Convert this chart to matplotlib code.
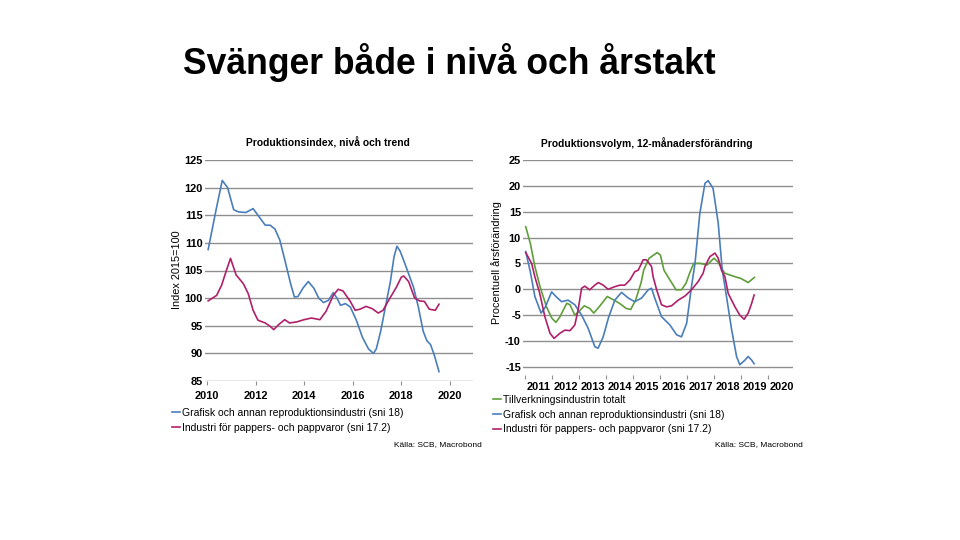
import numpy as np
import matplotlib
matplotlib.use("Agg")
from matplotlib import pyplot as plt

plt.rcParams['font.family'] = ['Liberation Sans', 'DejaVu Sans']
plt.rcParams['axes.unicode_minus'] = False

BLUE = '#4a7ebb'
MAGENTA = '#b0206a'
GREEN = '#5f9e3a'
GRID = '#8f8f8f'

# left panel: Produktionsindex (2015=100)
grafisk_idx_t = [2010.05, 2010.4, 2010.63, 2010.85, 2011.1, 2011.3, 2011.6, 2011.9, 2012.1, 2012.4,
                 2012.6, 2012.8, 2013.0, 2013.2, 2013.45, 2013.6, 2013.75, 2013.95, 2014.17, 2014.4,
                 2014.6, 2014.8, 2015.0, 2015.2, 2015.35, 2015.5, 2015.7, 2015.9, 2016.15, 2016.4,
                 2016.65, 2016.85, 2016.97, 2017.15, 2017.35, 2017.55, 2017.7, 2017.82, 2017.95, 2018.1,
                 2018.3, 2018.5, 2018.7, 2018.9, 2019.05, 2019.2, 2019.35, 2019.55]
grafisk_idx = [108.8, 116.5, 121.3, 120.0, 116.0, 115.6, 115.5, 116.2, 115.0, 113.2,
               113.2, 112.5, 110.5, 107.0, 102.5, 100.2, 100.3, 101.8, 103.0, 101.8,
               100.0, 99.2, 99.6, 101.0, 100.0, 98.7, 99.0, 98.4, 96.0, 92.9,
               90.8, 90.0, 90.8, 94.0, 98.5, 103.0, 107.5, 109.4, 108.5, 106.8,
               104.4, 102.0, 98.4, 94.0, 92.3, 91.6, 89.8, 86.7]

papper_idx_t = [2010.05, 2010.4, 2010.6, 2010.8, 2010.97, 2011.2, 2011.5, 2011.7, 2011.9, 2012.1,
                2012.4, 2012.6, 2012.75, 2012.95, 2013.2, 2013.4, 2013.7, 2014.0, 2014.3, 2014.65,
                2014.9, 2015.2, 2015.4, 2015.6, 2015.9, 2016.1, 2016.3, 2016.55, 2016.8, 2017.05,
                2017.25, 2017.45, 2017.8, 2018.0, 2018.1, 2018.3, 2018.55, 2018.75, 2018.95, 2019.15,
                2019.4, 2019.55]
papper_idx = [99.5, 100.5, 102.3, 105.0, 107.2, 104.2, 102.6, 100.8, 97.8, 96.0,
              95.5, 94.9, 94.3, 95.2, 96.1, 95.5, 95.7, 96.1, 96.4, 96.1,
              97.6, 100.5, 101.6, 101.3, 99.4, 97.8, 98.0, 98.5, 98.1, 97.3,
              97.8, 99.4, 102.0, 103.8, 104.0, 103.0, 100.0, 99.5, 99.4, 98.0,
              97.8, 98.9]

# right panel: Produktionsvolym, 12-månadersförändring (%)
totalt_t = [2011.03, 2011.2, 2011.37, 2011.56, 2011.8, 2012.0, 2012.15, 2012.3, 2012.55, 2012.67,
            2012.85, 2013.0, 2013.2, 2013.4, 2013.55, 2013.75, 2014.05, 2014.3, 2014.5, 2014.75,
            2014.92, 2015.1, 2015.3, 2015.4, 2015.6, 2015.9, 2016.02, 2016.15, 2016.3, 2016.6,
            2016.8, 2016.97, 2017.1, 2017.25, 2017.5, 2017.75, 2018.0, 2018.15, 2018.4, 2018.8,
            2019.0, 2019.27, 2019.5]
totalt = [12.1, 8.9, 4.4, 0.5, -3.4, -5.6, -6.4, -5.3, -2.7, -3.0,
          -5.0, -4.3, -3.2, -3.7, -4.6, -3.4, -1.4, -2.1, -2.7, -3.7,
          -3.9, -2.1, 1.2, 3.7, 6.0, 7.1, 6.6, 3.7, 2.4, -0.1,
          -0.1, 1.2, 3.1, 5.0, 5.0, 4.7, 6.0, 5.3, 3.1, 2.4,
          2.1, 1.3, 2.3]

grafisk_vol_t = [2011.03, 2011.2, 2011.37, 2011.6, 2011.75, 2011.99, 2012.15, 2012.36, 2012.6, 2012.85,
                 2013.1, 2013.34, 2013.59, 2013.71, 2013.9, 2014.09, 2014.33, 2014.58, 2014.83, 2015.07,
                 2015.32, 2015.57, 2015.69, 2015.81, 2016.06, 2016.37, 2016.62, 2016.8, 2016.99, 2017.17,
                 2017.3, 2017.48, 2017.67, 2017.79, 2017.97, 2018.16, 2018.31, 2018.41, 2018.66, 2018.84,
                 2018.96, 2019.15, 2019.27, 2019.4, 2019.49]
grafisk_vol = [7.3, 3.4, -1.4, -4.6, -3.5, -0.5, -1.4, -2.4, -2.1, -3.0,
               -5.0, -7.5, -11.1, -11.4, -9.2, -5.6, -2.1, -0.6, -1.7, -2.4,
               -1.7, -0.1, 0.2, -1.7, -5.3, -6.9, -8.8, -9.2, -6.6, 0.5,
               5.0, 14.7, 20.5, 21.0, 19.5, 12.8, 3.7, 0.5, -7.9, -13.0,
               -14.6, -13.7, -13.0, -13.7, -14.4]

papper_vol_t = [2011.03, 2011.25, 2011.37, 2011.55, 2011.74, 2011.93, 2012.08, 2012.3, 2012.48, 2012.67,
                2012.85, 2012.97, 2013.1, 2013.22, 2013.4, 2013.59, 2013.72, 2013.9, 2014.08, 2014.33,
                2014.52, 2014.7, 2014.89, 2015.07, 2015.2, 2015.38, 2015.5, 2015.69, 2015.75, 2015.88,
                2016.06, 2016.25, 2016.43, 2016.68, 2016.93, 2017.17, 2017.42, 2017.6, 2017.67, 2017.85,
                2018.04, 2018.16, 2018.28, 2018.41, 2018.53, 2018.78, 2018.96, 2019.12, 2019.27, 2019.4,
                2019.49]
papper_vol = [7.1, 5.0, 2.4, -0.8, -5.3, -8.5, -9.5, -8.5, -7.9, -8.0,
              -6.9, -4.0, 0.2, 0.6, -0.1, 0.8, 1.3, 0.8, 0.0, 0.5,
              0.8, 0.8, 1.8, 3.4, 3.7, 5.7, 5.7, 4.4, 2.4, -0.1,
              -3.0, -3.4, -3.2, -2.1, -1.3, -0.1, 1.5, 3.1, 4.4, 6.3,
              7.0, 6.0, 3.7, 2.4, -0.8, -3.4, -5.0, -5.8, -4.6, -2.7,
              -1.1]

left_yticks = [85, 90, 95, 100, 105, 110, 115, 120, 125]
left_xticks = [2010, 2012, 2014, 2016, 2018, 2020]
right_yticks = [-15, -10, -5, 0, 5, 10, 15, 20, 25]
right_years = [2011, 2012, 2013, 2014, 2015, 2016, 2017, 2018, 2019, 2020]

lbl_grafisk = 'Grafisk och annan reproduktionsindustri (sni 18)'
lbl_papper = 'Industri för pappers- och pappvaror (sni 17.2)'
lbl_totalt = 'Tillverkningsindustrin totalt'

TICK_FS = 7.9

fig = plt.figure(figsize=(9.6, 5.4), dpi=100)
fig.text(183 / 960, 1 - 74 / 540, 'Svänger både i nivå och årstakt', fontsize=25.6,
         fontweight='bold', va='baseline', ha='left', color='black')


def style_axes(ax):
    for s in ax.spines.values():
        s.set_visible(False)
    ax.set_axisbelow(True)
    ax.grid(axis='y', color=GRID, linewidth=1.0)
    ax.grid(axis='x', visible=False)
    ax.tick_params(axis='y', length=0, labelsize=TICK_FS, pad=1.5)
    for t in ax.get_yticklabels():
        t.set_fontweight('bold')


# left chart
ax1 = fig.add_axes([205 / 960, 1 - 381 / 540, 268 / 960, 221 / 540])
ax1.plot(grafisk_idx_t, grafisk_idx, color=BLUE, lw=1.2)
ax1.plot(papper_idx_t, papper_idx, color=MAGENTA, lw=1.2)
ax1.set_xlim(2009.92, 2020.95)
ax1.set_ylim(85, 125)
ax1.set_yticks(left_yticks)
ax1.set_xticks(left_xticks)
ax1.set_xticklabels([str(y) for y in left_xticks], fontweight='bold')
style_axes(ax1)
ax1.tick_params(axis='x', length=3, color=GRID, labelsize=TICK_FS, pad=4)
fig.text(177 / 960, 1 - 270 / 540, 'Index 2015=100', fontsize=7.8, rotation=90,
         ha='center', va='center')
fig.text(328 / 960, 1 - 143 / 540, 'Produktionsindex, nivå och trend', fontsize=7.4,
         fontweight='bold', ha='center', va='center')

# right chart
ax2 = fig.add_axes([523 / 960, 1 - 374.6 / 540, 270 / 960, 214.6 / 540])
ax2.plot(totalt_t, totalt, color=GREEN, lw=1.2)
ax2.plot(grafisk_vol_t, grafisk_vol, color=BLUE, lw=1.2)
ax2.plot(papper_vol_t, papper_vol, color=MAGENTA, lw=1.2)
ax2.set_xlim(2010.93, 2020.93)
ax2.set_ylim(-16.5, 25)
ax2.set_yticks(right_yticks)
ax2.set_xticks(right_years)
ax2.set_xticklabels([])
ax2.set_xticks([y + 0.5 for y in right_years], minor=True)
ax2.set_xticklabels([str(y) for y in right_years], minor=True, fontweight='bold')
style_axes(ax2)
ax2.tick_params(axis='x', which='major', length=3, color=GRID)
ax2.tick_params(axis='x', which='minor', length=0, labelsize=TICK_FS, pad=5)
fig.text(497 / 960, 1 - 263 / 540, 'Procentuell årsförändring', fontsize=7.8, rotation=90,
         ha='center', va='center')
fig.text(647 / 960, 1 - 143 / 540, 'Produktionsvolym, 12-månadersförändring', fontsize=7.4,
         fontweight='bold', ha='center', va='center')

# legends
h1, = ax1.plot([], [], color=BLUE, lw=1.2)
h2, = ax1.plot([], [], color=MAGENTA, lw=1.2)
fig.legend([h1, h2], [lbl_grafisk, lbl_papper], loc='upper left',
           bbox_to_anchor=(172 / 960, 1 - 408 / 540), frameon=False, fontsize=7.5,
           handlelength=0.75, handletextpad=0.2, labelspacing=0.45, borderpad=0, borderaxespad=0)
g1, = ax2.plot([], [], color=GREEN, lw=1.2)
g2, = ax2.plot([], [], color=BLUE, lw=1.2)
g3, = ax2.plot([], [], color=MAGENTA, lw=1.2)
fig.legend([g1, g2, g3], [lbl_totalt, lbl_grafisk, lbl_papper], loc='upper left',
           bbox_to_anchor=(493 / 960, 1 - 395 / 540), frameon=False, fontsize=7.5,
           handlelength=0.75, handletextpad=0.2, labelspacing=0.45, borderpad=0, borderaxespad=0)

fig.text(482 / 960, 1 - 445 / 540, 'Källa: SCB, Macrobond', fontsize=6, ha='right', va='center')
fig.text(803 / 960, 1 - 445 / 540, 'Källa: SCB, Macrobond', fontsize=6, ha='right', va='center')

fig.savefig('out.png', dpi=100, facecolor='white')
